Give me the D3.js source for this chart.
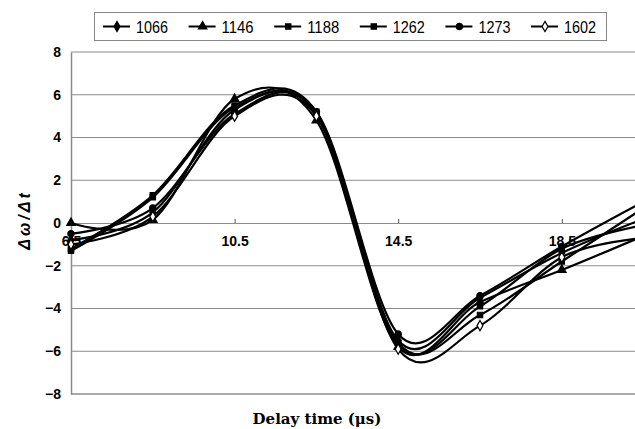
<!DOCTYPE html>
<html>
<head>
<meta charset="utf-8">
<script src="https://cdn.jsdelivr.net/npm/d3@7"></script>
<style>
  body { margin: 0; background: #fff; }
  svg { display: block; }
</style>
</head>
<body>
<script>
// delay time (µs) at each measured point
const delays = [6.5, 8.5, 10.5, 12.5, 14.5, 16.5, 18.5, 20.5];
const xTicks = [6.5, 10.5, 14.5, 18.5];
const yTicks = [-8, -6, -4, -2, 0, 2, 4, 6, 8];

const seriesNames = ["1066", "1146", "1188", "1262", "1273", "1602"];
const s1066 = [-0.8, 0.5, 5.3, 5.1, -5.5, -3.5, -1.4, 0.2];
const s1146 = [0.0, 0.15, 5.8, 4.8, -5.8, -3.7, -2.2, -0.6];
const s1188 = [-1.2, 1.3, 5.5, 5.2, -5.6, -4.3, -1.8, 0.7];
const s1262 = [-1.3, 1.2, 5.4, 5.1, -5.7, -3.9, -1.2, -0.1];
const s1273 = [-0.5, 0.7, 5.1, 5.2, -5.2, -3.4, -1.1, 1.0];
const s1602 = [-1.0, 0.3, 5.0, 5.0, -5.9, -4.8, -1.6, -0.7];

const w = 635, h = 429;
const plotLeft = 71, plotTop = 52, plotBottom = 394;

const series = [s1066, s1146, s1188, s1262, s1273, s1602].map((vals, i) => ({
  name: seriesNames[i],
  points: vals.map((v, j) => [delays[j], v])
}));

const markers = [
  { type: d3.symbolDiamond, size: 30, fill: "#000" },
  { type: d3.symbolTriangle, size: 32, fill: "#000" },
  { type: d3.symbolSquare, size: 28, fill: "#000" },
  { type: d3.symbolSquare, size: 28, fill: "#000" },
  { type: d3.symbolCircle, size: 32, fill: "#000" },
  { type: d3.symbolDiamond, size: 30, fill: "#fff" }
];

const xScale = d3.scaleLinear().domain([6.5, 20.5]).range([plotLeft, plotLeft + 14 * 40.9]);
const yScale = d3.scaleLinear().domain([-8, 8]).range([plotBottom, plotTop]);

const svg = d3.select("body").append("svg")
  .attr("width", w)
  .attr("height", h)
  .style("font-family", "'Liberation Sans', Arial, sans-serif");

// grid lines
svg.append("g")
  .selectAll("line")
  .data(yTicks.filter(d => d !== 0))
  .enter()
  .append("line")
  .attr("x1", plotLeft)
  .attr("x2", w)
  .attr("y1", d => yScale(d))
  .attr("y2", d => yScale(d))
  .attr("stroke", d => d === -8 ? "#555" : "#8a8a8a")
  .attr("stroke-width", 1.2);

// y axis
const yAxis = d3.axisLeft(yScale).tickValues(yTicks).tickSize(0).tickPadding(10);
svg.append("g")
  .attr("transform", "translate(" + plotLeft + ",0)")
  .call(yAxis)
  .call(g => g.select(".domain").attr("stroke", "#8a8a8a").attr("stroke-width", 1.5))
  .call(g => g.selectAll("text").attr("font-size", 14).attr("font-weight", "bold").attr("fill", "#000"));

// x axis crossing at zero
const xAxis = d3.axisBottom(xScale).tickValues(xTicks).tickSizeInner(-4).tickSizeOuter(0)
  .tickPadding(13).tickFormat(d3.format(".1f"));
svg.append("g")
  .attr("transform", "translate(0," + yScale(0) + ")")
  .call(xAxis)
  .call(g => g.select(".domain").attr("stroke", "#8a8a8a").attr("stroke-width", 1.2))
  .call(g => g.selectAll(".tick line").attr("stroke", "#555"))
  .call(g => g.selectAll("text").attr("font-size", 14).attr("font-weight", "bold").attr("fill", "#000"));

// smoothed lines
const line = d3.line()
  .x(d => xScale(d[0]))
  .y(d => yScale(d[1]))
  .curve(d3.curveCardinal.tension(0));

svg.append("g")
  .selectAll("path")
  .data(series)
  .enter()
  .append("path")
  .attr("d", d => line(d.points))
  .attr("fill", "none")
  .attr("stroke", "#000")
  .attr("stroke-width", 2.2);

series.forEach((s, i) => {
  svg.append("g")
    .selectAll("path")
    .data(s.points)
    .enter()
    .append("path")
    .attr("transform", d => "translate(" + xScale(d[0]) + "," + yScale(d[1]) + ")")
    .attr("d", d3.symbol().type(markers[i].type).size(markers[i].size))
    .attr("fill", markers[i].fill)
    .attr("stroke", "#000")
    .attr("stroke-width", 1.2);
});

// legend
const legend = svg.append("g");
legend.append("rect")
  .attr("x", 94.5)
  .attr("y", 12.5)
  .attr("width", 512)
  .attr("height", 28)
  .attr("fill", "#fff")
  .attr("stroke", "#888")
  .attr("stroke-width", 1);

series.forEach((s, i) => {
  const x0 = 103 + i * 85.6;
  const item = legend.append("g").attr("transform", "translate(" + x0 + ",26.5)");
  item.append("line")
    .attr("x1", 0).attr("x2", 27)
    .attr("y1", 0).attr("y2", 0)
    .attr("stroke", "#000")
    .attr("stroke-width", 2);
  item.append("path")
    .attr("transform", "translate(14,0)")
    .attr("d", d3.symbol().type(markers[i].type).size(markers[i].size))
    .attr("fill", markers[i].fill)
    .attr("stroke", "#000")
    .attr("stroke-width", 1.2);
  item.append("text")
    .attr("x", 33)
    .attr("y", 6)
    .attr("font-size", 17)
    .attr("textLength", 32)
    .attr("lengthAdjust", "spacingAndGlyphs")
    .text(s.name);
});

// axis titles
svg.append("text")
  .attr("x", 317)
  .attr("y", 424)
  .attr("text-anchor", "middle")
  .attr("font-family", "'DejaVu Serif', 'Liberation Serif', serif")
  .attr("font-weight", "bold")
  .attr("font-size", 15)
  .text("Delay time (μs)");

svg.append("text")
  .attr("transform", "translate(30,220) rotate(-90)")
  .attr("text-anchor", "middle")
  .attr("font-weight", "bold")
  .attr("font-style", "italic")
  .attr("font-size", 16)
  .attr("letter-spacing", 3)
  .text("Δω/Δt");
</script>
</body>
</html>
